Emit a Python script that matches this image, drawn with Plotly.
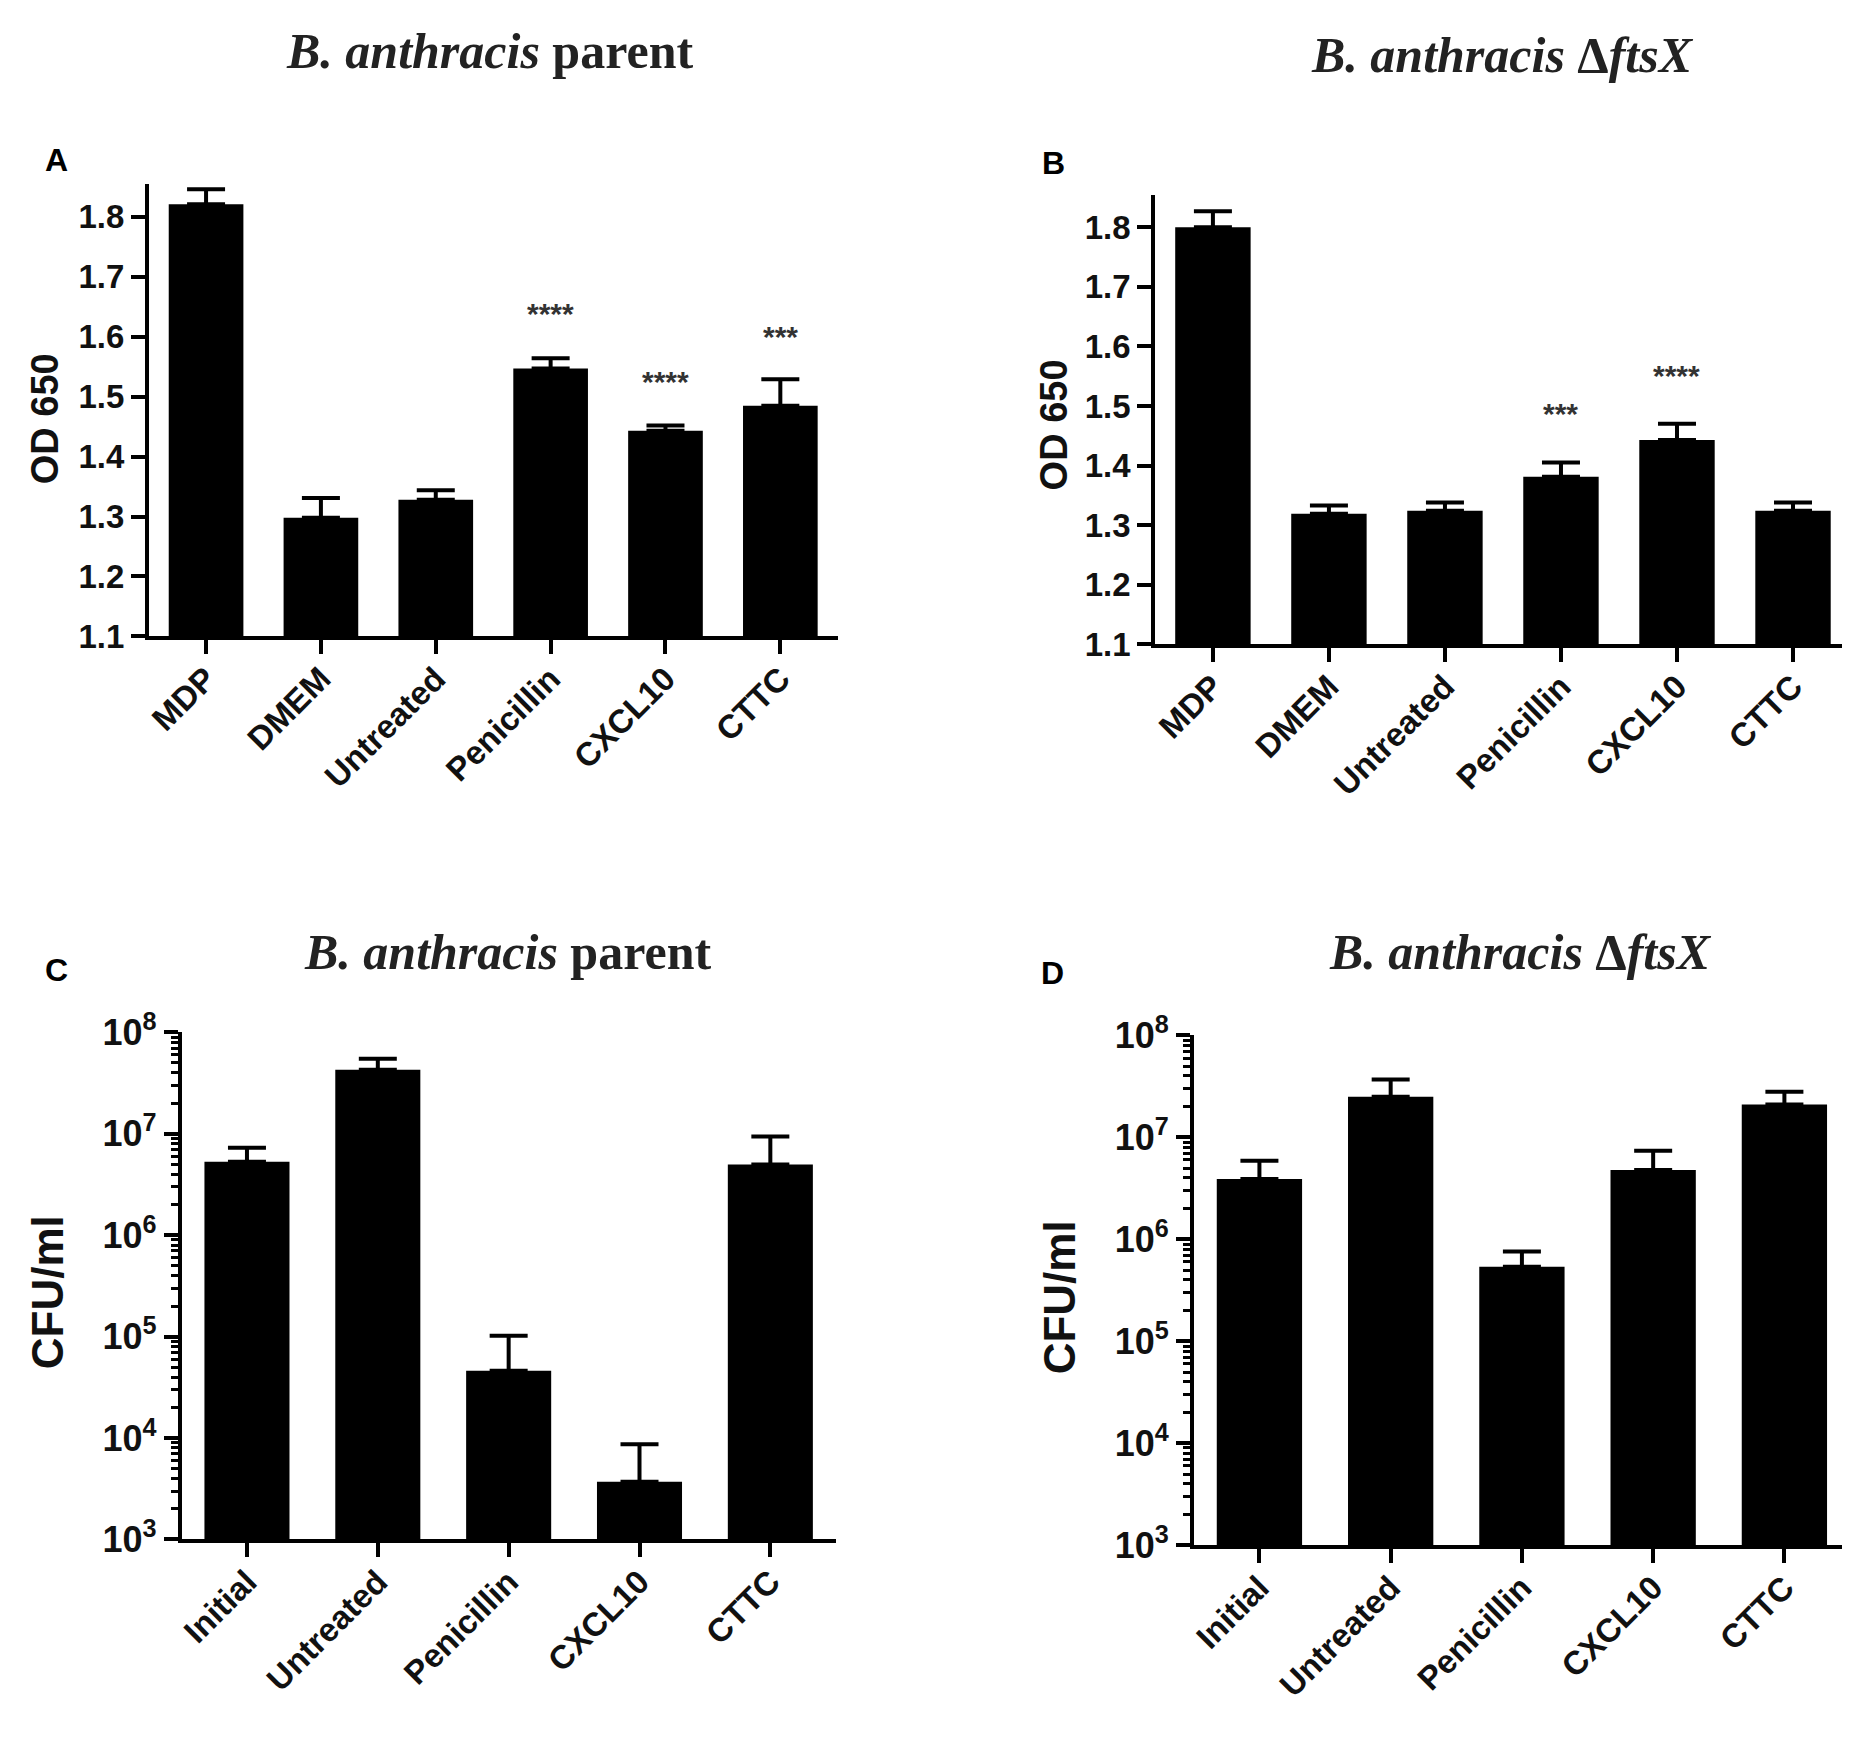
import plotly.graph_objects as go

W, H = 1850, 1751

# ---- data ----
od_groups = ['MDP', 'DMEM', 'Untreated', 'Penicillin', 'CXCL10', 'CTTC']

od_parent = [1.821, 1.298, 1.328, 1.547, 1.443, 1.485]
od_parent_top = [1.846, 1.331, 1.344, 1.564, 1.452, 1.529]
od_parent_stars = {'Penicillin': ('****', 1.632), 'CXCL10': ('****', 1.518), 'CTTC': ('***', 1.594)}

od_ftsx = [1.800, 1.319, 1.324, 1.381, 1.443, 1.324]
od_ftsx_top = [1.827, 1.333, 1.338, 1.405, 1.470, 1.338]
od_ftsx_stars = {'Penicillin': ('***', 1.480), 'CXCL10': ('****', 1.545)}

cfu_groups = ['Initial', 'Untreated', 'Penicillin', 'CXCL10', 'CTTC']

cfu_parent = [5.3e6, 4.3e7, 4.6e4, 3.7e3, 5.0e6]
cfu_parent_top = [7.3e6, 5.5e7, 1.02e5, 8.7e3, 9.4e6]

cfu_ftsx = [3.9e6, 2.5e7, 5.4e5, 4.8e6, 2.1e7]
cfu_ftsx_top = [5.9e6, 3.7e7, 7.6e5, 7.4e6, 2.8e7]

od_ticks = [1.1, 1.2, 1.3, 1.4, 1.5, 1.6, 1.7, 1.8]
cfu_exps = [3, 4, 5, 6, 7, 8]

SANS = 'Liberation Sans, Arial, sans-serif'
SERIF = 'Liberation Serif, Times New Roman, serif'


def px_y(top, bottom):
    return [1 - bottom / H, 1 - top / H]


fig = go.Figure()

panels = [
    # (groups, vals, tops, x, y, x-domain px, y-domain px, log?)
    (od_groups, od_parent, od_parent_top, 'x', 'y', (136, 827), (154, 619), False),
    (od_groups, od_ftsx, od_ftsx_top, 'x2', 'y2', (1145, 1843), (165, 627), False),
    (cfu_groups, cfu_parent, cfu_parent_top, 'x3', 'y3', (169, 825), (1026, 1547), True),
    (cfu_groups, cfu_ftsx, cfu_ftsx_top, 'x4', 'y4', (1184, 1842), (1029, 1553), True),
]

axis_line = dict(showline=True, linecolor='black', linewidth=3.5, ticks='outside',
                 ticklen=14, tickwidth=3.5, tickcolor='black', showgrid=False,
                 zeroline=False)

for groups, vals, tops, xa, ya, (x0, x1), (y0, y1), is_log in panels:
    plus = [t - v for t, v in zip(tops, vals)]
    fig.add_trace(go.Bar(
        x=groups, y=vals, xaxis=xa, yaxis=ya, width=0.65,
        marker=dict(color='black', line=dict(width=0)),
        error_y=dict(type='data', symmetric=False, array=plus,
                     arrayminus=[0] * len(vals), color='black',
                     thickness=4, width=19),
        showlegend=False,
    ))
    xkey = 'xaxis' if xa == 'x' else 'xaxis' + xa[1:]
    ykey = 'yaxis' if ya == 'y' else 'yaxis' + ya[1:]
    xax = dict(axis_line, domain=[x0 / W, x1 / W], anchor=ya,
               range=[-0.5, len(groups) - 0.5], tickangle=-45,
               tickmode='array', tickvals=groups,
               ticktext=['<b>%s</b>' % g for g in groups],
               ticklabelstandoff=-8,
               tickfont=dict(family=SANS, size=33, color='#111'))
    if is_log:
        yax = dict(axis_line, domain=px_y(y0, y1), anchor=xa, type='log',
                   range=[3, 8], tickmode='array',
                   tickvals=[10 ** e for e in cfu_exps],
                   ticktext=['<b>10<sup>%d</sup></b>' % e for e in cfu_exps],
                   tickfont=dict(family=SANS, size=36, color='#111'),
                   minor=dict(ticks='outside', ticklen=7, tickwidth=2.5,
                              tickcolor='black', dtick='D1', showgrid=False))
    else:
        yax = dict(axis_line, domain=px_y(y0, y1), anchor=xa,
                   range=[1.1, 1.855], tickmode='array', tickvals=od_ticks,
                   ticktext=['<b>%.1f</b>' % t for t in od_ticks],
                   tickfont=dict(family=SANS, size=33, color='#111'))
    fig.update_layout({xkey: xax, ykey: yax})

annotations = []

# significance stars
for stars, xa, ya in [(od_parent_stars, 'x', 'y'), (od_ftsx_stars, 'x2', 'y2')]:
    for grp, (txt, yv) in stars.items():
        annotations.append(dict(x=grp, y=yv, xref=xa, yref=ya, text='<b>%s</b>' % txt,
                                showarrow=False, yanchor='middle', yshift=4,
                                font=dict(family=SANS, size=30, color='#333')))

# panel titles
titles = [
    ('<b><i>B. anthracis</i> parent</b>', 478, 17),
    ('<b><i>B. anthracis</i> Δ<i>ftsX</i></b>', 1494, 22),
    ('<b><i>B. anthracis</i> parent</b>', 496, 943),
    ('<b><i>B. anthracis</i> Δ<i>ftsX</i></b>', 1512, 943),
]
for txt, cx, cy in titles:
    annotations.append(dict(x=cx / W, y=1 - cy / H, xref='paper', yref='paper', text=txt,
                            showarrow=False, xanchor='center', yanchor='middle',
                            font=dict(family=SERIF, size=50, color='#222')))

# panel letters
for txt, cx, cy in [('A', 44, 129), ('B', 1043, 133), ('C', 44, 962), ('D', 1042, 965)]:
    annotations.append(dict(x=cx / W, y=1 - cy / H, xref='paper', yref='paper',
                            text='<b>%s</b>' % txt, showarrow=False,
                            xanchor='center', yanchor='middle',
                            font=dict(family=SANS, size=32, color='black')))

# y-axis titles
for txt, cx, cy, size in [('OD 650', 32, 395, 38), ('OD 650', 1044, 402, 38),
                          ('CFU/ml', 34, 1293, 44), ('CFU/ml', 1049, 1298, 44)]:
    annotations.append(dict(x=cx / W, y=1 - cy / H, xref='paper', yref='paper',
                            text='<b>%s</b>' % txt, showarrow=False, textangle=-90,
                            xanchor='center', yanchor='middle',
                            font=dict(family=SANS, size=size, color='#111')))

fig.update_layout(
    width=W, height=H,
    margin=dict(l=0, r=0, t=0, b=0),
    paper_bgcolor='white', plot_bgcolor='white',
    annotations=annotations,
)

fig.write_html('out.html')
